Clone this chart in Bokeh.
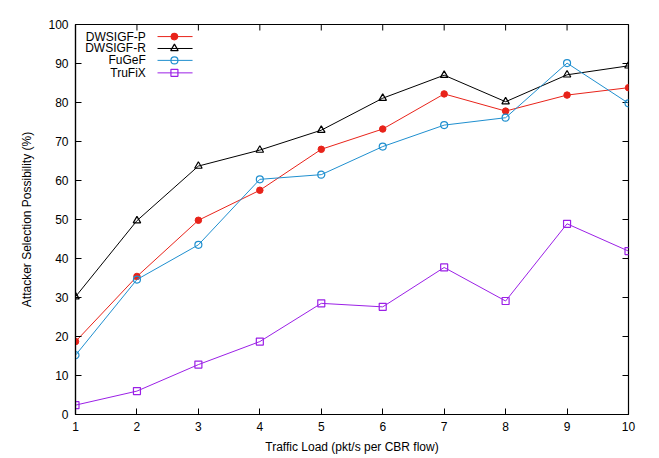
from bokeh.plotting import figure
from bokeh.models import Range1d, FixedTicker
from bokeh.core.properties import value
from bokeh.embed import file_html
from bokeh.resources import INLINE

traffic_load = [1, 2, 3, 4, 5, 6, 7, 8, 9, 10]
dwsigf_p = [18.7, 35.4, 49.8, 57.5, 68.0, 73.2, 82.2, 77.8, 81.9, 83.8]
dwsigf_r = [30.2, 49.7, 63.7, 67.8, 72.9, 81.1, 87.0, 80.2, 87.1, 89.4]
fugef = [15.2, 34.6, 43.5, 60.3, 61.5, 68.7, 74.2, 76.1, 90.1, 79.8]
trufix = [2.4, 6.0, 12.8, 18.7, 28.5, 27.6, 37.7, 29.1, 48.9, 41.9]
series_names = ["DWSIGF-P", "DWSIGF-R", "FuGeF", "TruFiX"]
y_ticks = [0, 10, 20, 30, 40, 50, 60, 70, 80, 90, 100]

FONT = "Liberation Sans"
RED, BLACK, BLUE, PURPLE = "#e8231a", "#000000", "#1f8fcf", "#9b20e6"

X0, X1, Y0, Y1 = 1, 10, 0, 100
p = figure(width=651, height=456, output_backend="svg", toolbar_location=None,
           x_range=Range1d(X0, X1), y_range=Range1d(Y0, Y1),
           min_border_left=75, min_border_right=23, min_border_top=24, min_border_bottom=42)
p.outline_line_color = "black"
p.outline_line_width = 1.2
p.xgrid.visible = False
p.ygrid.visible = False

for ax in (p.xaxis[0], p.yaxis[0]):
    ax.major_tick_in = 6
    ax.major_tick_out = 0
    ax.minor_tick_in = 0
    ax.minor_tick_out = 0
    ax.axis_line_color = "black"
    ax.axis_line_width = 1.2
    ax.major_tick_line_color = "black"
    ax.major_label_text_font = FONT
    ax.major_label_text_font_size = "12px"
    ax.major_label_text_color = "black"
    ax.axis_label_text_font = FONT
    ax.axis_label_text_font_size = "12px"
    ax.axis_label_text_font_style = "normal"
    ax.axis_label_text_color = "black"

p.xaxis.ticker = FixedTicker(ticks=traffic_load)
p.yaxis.ticker = FixedTicker(ticks=y_ticks)
p.xaxis.axis_label = "Traffic Load (pkt/s per CBR flow)"
p.yaxis.axis_label = "Attacker Selection Possibility (%)"
p.xaxis.major_label_standoff = 7
p.yaxis.major_label_standoff = 7
p.xaxis.axis_label_standoff = 6
p.yaxis.axis_label_standoff = 11

# mirrored inward ticks on the top and right edges (gnuplot style)
tick_dx = 6 / 553 * (X1 - X0)
tick_dy = 6 / 390 * (Y1 - Y0)
p.segment(x0=traffic_load, x1=traffic_load, y0=[Y1] * len(traffic_load),
          y1=[Y1 - tick_dy] * len(traffic_load), line_color="black", line_width=1)
p.segment(x0=[X1] * len(y_ticks), x1=[X1 - tick_dx] * len(y_ticks), y0=y_ticks, y1=y_ticks,
          line_color="black", line_width=1)

# series lines and markers
p.line(traffic_load, dwsigf_p, line_color=RED, line_width=1)
p.scatter(traffic_load, dwsigf_p, marker="circle", size=6.5, fill_color=RED, line_color=RED)
p.line(traffic_load, dwsigf_r, line_color=BLACK, line_width=1)
p.scatter(traffic_load, dwsigf_r, marker="triangle", size=7.5, fill_color=None, line_color=BLACK, line_width=1.2)
p.line(traffic_load, fugef, line_color=BLUE, line_width=1)
p.scatter(traffic_load, fugef, marker="circle", size=7, fill_color=None, line_color=BLUE, line_width=1.2)
p.line(traffic_load, trufix, line_color=PURPLE, line_width=1)
p.scatter(traffic_load, trufix, marker="square", size=7, fill_color=None, line_color=PURPLE, line_width=1.2)

# gnuplot-style legend (text right-aligned, sample to the right)
leg_y = [96.9, 93.85, 90.8, 87.6]
colors = [RED, BLACK, BLUE, PURPLE]
markers = [("circle", RED, 6.5), ("triangle", None, 7.5), ("circle", None, 7), ("square", None, 7)]
for name, yy, col, (mk, fc, sz) in zip(series_names, leg_y, colors, markers):
    p.text(x=[2.145], y=[yy], text=[name], text_align="right", text_baseline="middle",
           text_font=value(FONT), text_font_size="12px", text_color="black")
    p.line([2.335, 2.905], [yy, yy], line_color=col, line_width=1)
    p.scatter([2.61], [yy], marker=mk, size=sz, fill_color=fc, line_color=col, line_width=1.2)

open("out.html", "w").write(file_html(p, INLINE))
